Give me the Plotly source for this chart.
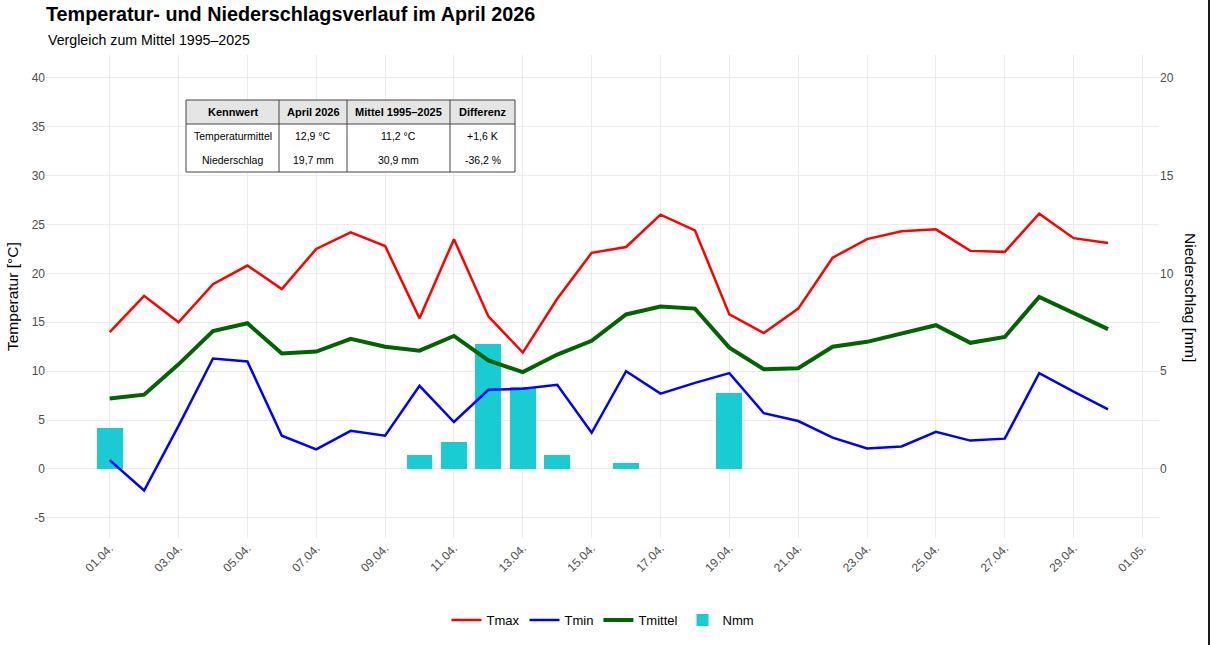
import plotly.graph_objects as go

# ---------------- data ----------------
dates = [f"2026-04-{d:02d}" for d in range(1, 31)]

tmax = [14.0, 17.7, 15.0, 18.9, 20.8, 18.4, 22.5, 24.2, 22.8, 15.4,
        23.5, 15.6, 11.9, 17.4, 22.1, 22.7, 26.0, 24.4, 15.8, 13.9,
        16.4, 21.6, 23.5, 24.3, 24.5, 22.3, 22.2, 26.1, 23.6, 23.1]

tmin = [0.9, -2.2, 4.4, 11.3, 11.0, 3.4, 2.0, 3.9, 3.4, 8.5,
        4.8, 8.1, 8.2, 8.6, 3.7, 10.0, 7.7, 8.8, 9.8, 5.7,
        4.9, 3.2, 2.1, 2.3, 3.8, 2.9, 3.1, 9.8, 7.9, 6.1]

tmittel = [7.2, 7.6, 10.7, 14.1, 14.9, 11.8, 12.0, 13.3, 12.5, 12.1,
           13.6, 11.1, 9.9, 11.7, 13.1, 15.8, 16.6, 16.4, 12.4, 10.2,
           10.3, 12.5, 13.0, 13.8, 14.7, 12.9, 13.5, 17.6, 16.0, 14.3]

nmm = [2.1, 0, 0, 0, 0, 0, 0, 0, 0, 0.7,
       1.4, 6.4, 4.2, 0.7, 0, 0.3, 0, 0, 3.9, 0,
       0, 0, 0, 0, 0, 0, 0, 0, 0, 0]

temp_ticks = [-5, 0, 5, 10, 15, 20, 25, 30, 35, 40]
temp_ticklabels = ["-5", "0", "5", "10", "15", "20", "25", "30", "35", "40"]
prec_ticks = [0, 5, 10, 15, 20]

table_header = ["Kennwert", "April 2026", "Mittel 1995\u20132025", "Differenz"]
table_row1 = ["Temperaturmittel", "12,9 \u00b0C", "11,2 \u00b0C", "+1,6 K"]
table_row2 = ["Niederschlag", "19,7 mm", "30,9 mm", "-36,2 %"]

title_text = "Temperatur- und Niederschlagsverlauf im April 2026"
subtitle_text = "Vergleich zum Mittel 1995\u20132025"

# ---------------- layout helpers ----------------
FW, FH = 1210, 645
L, R, T, B = 46, 1159, 55, 538


def px(x):
    return (x - L) / (R - L)


def py(y):
    return (B - y) / (B - T)


FONT = "Liberation Sans, Arial, sans-serif"
GRAY = "#4D4D4D"
GRID = "#EBEBEB"

fig = go.Figure()

fig.add_trace(go.Bar(
    x=dates, y=nmm, name="Nmm", yaxis="y",
    marker=dict(color="#19CCD3", line=dict(width=0)),
    width=0.75 * 86400000, legendrank=4,
))
fig.add_trace(go.Scatter(
    x=dates, y=tmax, name="Tmax", mode="lines", yaxis="y2",
    line=dict(color="#FF0000", width=2.5), legendrank=1,
))
fig.add_trace(go.Scatter(
    x=dates, y=tmin, name="Tmin", mode="lines", yaxis="y2",
    line=dict(color="#0000FF", width=2.5), legendrank=2,
))
fig.add_trace(go.Scatter(
    x=dates, y=tmittel, name="Tmittel", mode="lines", yaxis="y2",
    line=dict(color="#006400", width=4), legendrank=3,
))

shapes = []
annotations = []

# table
xe = [186, 279, 347, 450, 515]
ye = [100, 124, 148, 172]
LINEC = "#444444"
shapes.append(dict(type="rect", xref="paper", yref="paper",
                   x0=px(xe[0]), x1=px(xe[-1]), y0=py(ye[1]), y1=py(ye[0]),
                   fillcolor="#E5E5E5", line=dict(width=0), layer="above"))
shapes.append(dict(type="rect", xref="paper", yref="paper",
                   x0=px(xe[0]), x1=px(xe[-1]), y0=py(ye[-1]), y1=py(ye[1]),
                   fillcolor="white", line=dict(width=0), layer="above"))
shapes.append(dict(type="line", xref="paper", yref="paper",
                   x0=px(xe[0]), x1=px(xe[-1]), y0=py(ye[1]), y1=py(ye[1]),
                   line=dict(color=LINEC, width=1), layer="above"))
for xv in xe[1:-1]:
    shapes.append(dict(type="line", xref="paper", yref="paper",
                       x0=px(xv), x1=px(xv), y0=py(ye[-1]), y1=py(ye[0]),
                       line=dict(color=LINEC, width=1), layer="above"))
shapes.append(dict(type="rect", xref="paper", yref="paper",
                   x0=px(xe[0]), x1=px(xe[-1]), y0=py(ye[-1]), y1=py(ye[0]),
                   line=dict(color=LINEC, width=1), layer="above"))

for r, row in enumerate([table_header, table_row1, table_row2]):
    for c, txt in enumerate(row):
        annotations.append(dict(
            xref="paper", yref="paper",
            x=px((xe[c] + xe[c + 1]) / 2), y=py((ye[r] + ye[r + 1]) / 2),
            text=f"<b>{txt}</b>" if r == 0 else txt, showarrow=False,
            xanchor="center", yanchor="middle",
            font=dict(size=11 if r == 0 else 10.5, color="#000", family=FONT),
        ))

# subtitle
annotations.append(dict(xref="paper", yref="paper", x=px(46), y=py(40),
                        text=subtitle_text, showarrow=False,
                        xanchor="left", yanchor="middle",
                        font=dict(size=14.2, color="#000", family=FONT)))
# axis titles
annotations.append(dict(xref="paper", yref="paper", x=px(12), y=py(297),
                        text="Temperatur [\u00b0C]", showarrow=False, textangle=-90,
                        xanchor="center", yanchor="middle",
                        font=dict(size=15.5, color="#000", family=FONT)))
annotations.append(dict(xref="paper", yref="paper", x=px(1191), y=py(297),
                        text="Niederschlag [mm]", showarrow=False, textangle=90,
                        xanchor="center", yanchor="middle",
                        font=dict(size=15.5, color="#000", family=FONT)))

# dark right border line
shapes.append(dict(type="line", xref="paper", yref="paper",
                   x0=px(1209), x1=px(1209), y0=py(FH), y1=py(0),
                   line=dict(color="#1A1A1A", width=2), layer="above"))

fig.update_layout(
    width=FW, height=FH,
    margin=dict(l=L, r=FW - R, t=T, b=FH - B, autoexpand=False),
    plot_bgcolor="white", paper_bgcolor="white",
    font=dict(family=FONT, color="#000"),
    title=dict(text=f"<b>{title_text}</b>", x=46 / FW, xanchor="left",
               y=1 - 14 / FH, yanchor="middle", xref="container", yref="container",
               font=dict(size=19.8, color="#000", family=FONT)),
    xaxis=dict(type="date", range=["2026-03-30 03:36", "2026-05-01 11:31"],
               tick0="2026-04-01", dtick=2 * 86400000, tickformat="%d.%m.",
               tickangle=-45, showgrid=True, gridcolor=GRID, gridwidth=1,
               zeroline=False, showline=False, ticks="",
               tickfont=dict(size=12, color=GRAY, family=FONT)),
    yaxis=dict(range=[-3.53, 21.165], side="right", tickvals=prec_ticks,
               showgrid=False, zeroline=False, showline=False, ticks="",
               tickfont=dict(size=12, color=GRAY, family=FONT)),
    yaxis2=dict(range=[-7.06, 42.33], overlaying="y", side="left",
                tickvals=temp_ticks, ticktext=temp_ticklabels,
                showgrid=True, gridcolor=GRID, gridwidth=1,
                zeroline=False, showline=False, ticks="",
                tickfont=dict(size=12, color=GRAY, family=FONT)),
    legend=dict(orientation="h", x=px(603), xanchor="center", y=py(620),
                yanchor="middle", font=dict(size=13, color="#000", family=FONT),
                bgcolor="rgba(0,0,0,0)"),
    bargap=0,
    shapes=shapes,
    annotations=annotations,
    showlegend=True,
)

fig.write_html("out.html")
